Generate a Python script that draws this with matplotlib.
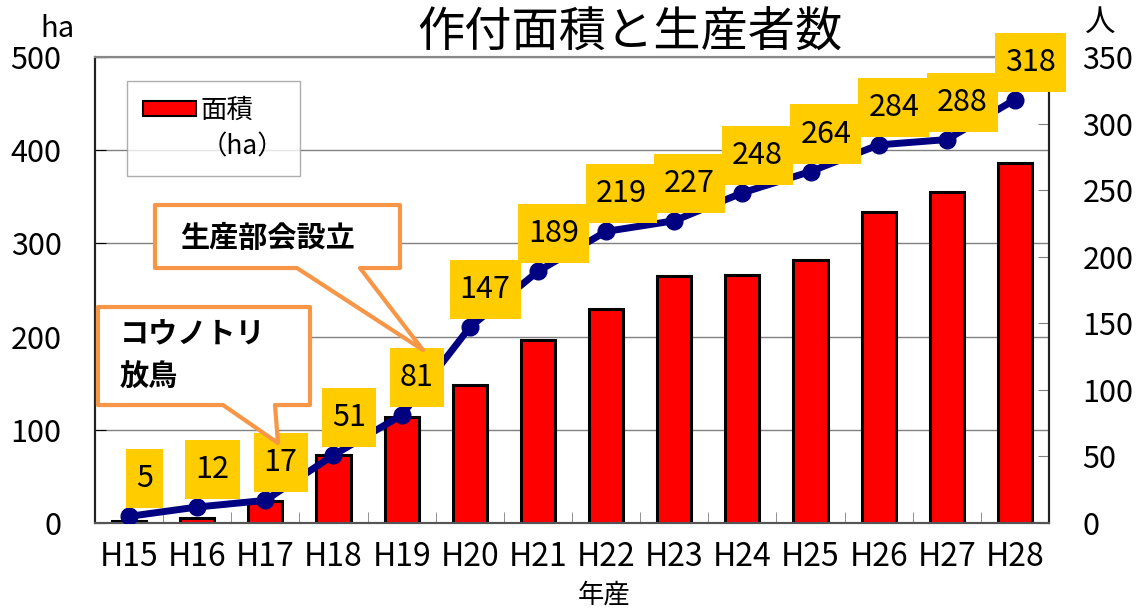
import matplotlib.pyplot as plt
from matplotlib.patches import Polygon, Patch
from matplotlib.path import Path

plt.rcParams['font.family'] = ['Noto Sans CJK JP', 'DejaVu Sans']

years = ['H15', 'H16', 'H17', 'H18', 'H19', 'H20', 'H21',
         'H22', 'H23', 'H24', 'H25', 'H26', 'H27', 'H28']
area_ha = [2, 5, 24, 73, 114, 148, 196, 230, 265, 266, 282, 334, 355, 386]
growers = [5, 12, 17, 51, 81, 147, 189, 219, 227, 248, 264, 284, 288, 318]


def label_box(x0, y0, width, height, mutation_size):
    # wider vertical padding than horizontal, like the Excel data labels
    px = 0.33 * mutation_size
    py = 0.46 * mutation_size
    x1, y1 = x0 - px, y0 - py
    x2, y2 = x0 + width + px, y0 + height + py
    return Path([(x1, y1), (x2, y1), (x2, y2), (x1, y2), (x1, y1)], closed=True)


fig = plt.figure(figsize=(11.47, 6.11), dpi=100)
ax = fig.add_axes([0.0828, 0.144, 0.8318, 0.7627])
ax2 = ax.twinx()

x = list(range(len(years)))
ax.bar(x, area_ha, width=0.5, color='#FF0000', edgecolor='black', linewidth=2.2, zorder=3)
ax.set_xlim(-0.5, len(years) - 0.5)
ax.set_ylim(0, 500)
ax.set_yticks([0, 100, 200, 300, 400, 500])
ax.grid(axis='y', color='#808080', linewidth=1, zorder=0)
ax.set_xticks(x)
ax.set_xticklabels(years)
ax.set_xticks([i + 0.5 for i in x[:-1]], minor=True)
ax.tick_params(axis='x', which='major', length=0, labelsize=23, pad=13)
ax.tick_params(axis='x', which='minor', direction='in', length=8, color='#808080')
ax.tick_params(axis='y', direction='in', length=8, labelsize=22, pad=24)

ax2.plot(x, growers, color='#000080', linewidth=5, marker='o', markersize=12, zorder=4)
ax2.set_ylim(0, 350)
ax2.set_yticks(range(0, 351, 50))
ax2.tick_params(axis='y', direction='in', length=8, labelsize=22, pad=24, color='#808080')

for i, v in zip(x, growers):
    ax2.annotate(str(v), (i, v), xytext=(11, 27), textcoords='offset points',
                 ha='center', va='center', fontsize=22, zorder=5,
                 bbox=dict(boxstyle=label_box, fc='#FFCC00', ec='none'))

for a in (ax, ax2):
    a.spines['top'].set_color('#888888')
    a.spines['top'].set_linewidth(1.5)
    a.spines['left'].set_color('#222222')
    a.spines['left'].set_linewidth(1.5)
    a.spines['right'].set_color('#222222')
    a.spines['right'].set_linewidth(1.5)
    a.spines['bottom'].set_color('#555555')
    a.spines['bottom'].set_linewidth(1.5)

# legend
handles = [Patch(facecolor='#FF0000', edgecolor='black', linewidth=1.5),
           Patch(facecolor='none', edgecolor='none')]
leg = ax2.legend(handles, ['面積', '（ha）'], loc='upper left',
                 bbox_to_anchor=(0.0335, 0.9485), fontsize=19, frameon=True,
                 fancybox=False, handlelength=2.0, handleheight=0.5,
                 handletextpad=0.2, borderpad=0.6, labelspacing=0.35,
                 borderaxespad=0)
leg.get_frame().set_edgecolor('#999999')
leg.get_frame().set_linewidth(1)
leg.set_zorder(6)

# callouts
orange = '#F79646'
bubble1 = [(0.0629, 0.6824), (0.3197, 0.6824), (0.3197, 0.5472), (0.2778, 0.5472),
           (0.3438, 0.3712), (0.2117, 0.5472), (0.0629, 0.5472)]
bubble2 = [(0.0031, 0.4635), (0.2254, 0.4635), (0.2254, 0.2532), (0.1887, 0.2532),
           (0.1918, 0.1717), (0.1342, 0.2532), (0.0031, 0.2532)]
for pts in (bubble1, bubble2):
    ax2.add_patch(Polygon(pts, closed=True, transform=ax2.transAxes, fc='white',
                          ec=orange, lw=3, joinstyle='round', zorder=7, clip_on=False))
ax2.text(0.1813, 0.6116, '生産部会設立', transform=ax2.transAxes, ha='center',
         va='center', fontsize=21, fontweight='bold', zorder=8)
ax2.text(0.0262, 0.3605, 'コウノトリ\n放鳥', transform=ax2.transAxes, ha='left',
         va='center', fontsize=21, fontweight='bold', linespacing=1.5, zorder=8)

fig.text(0.549, 0.945, '作付面積と生産者数', ha='center', va='center', fontsize=34)
fig.text(0.05, 0.952, 'ha', ha='center', va='center', fontsize=21)
fig.text(0.959, 0.964, '人', ha='center', va='center', fontsize=22)
fig.text(0.527, 0.026, '年産', ha='center', va='center', fontsize=19)

fig.savefig('out.png', dpi=100)
